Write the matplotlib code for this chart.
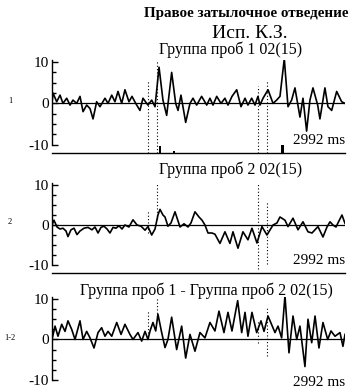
import matplotlib
matplotlib.use("Agg")
import matplotlib.pyplot as plt

# ---- data (time in ms, amplitude in uV) ----
t1 = [0, 10, 48, 82, 112, 150, 184, 214, 252, 286, 317, 354, 388, 419, 456, 490, 541, 572, 610, 643,
      674, 712, 745, 786, 817, 855, 898, 929, 967, 980, 1018, 1052, 1093, 1133, 1171, 1222, 1263, 1287,
      1317, 1365, 1409, 1440, 1477, 1528, 1580, 1613, 1644, 1682, 1726, 1766, 1797, 1838, 1886, 1930,
      1971, 2001, 2039, 2073, 2103, 2124, 2155, 2206, 2257, 2294, 2328, 2372, 2410, 2447, 2481, 2532,
      2563, 2600, 2634, 2665, 2713, 2736, 2787, 2818, 2856, 2907, 2958, 2992]
v1 = [0, 2.5, 0.4, 2, 0, 1.25, -0.4, 0.8, 0, 1.7, -2, -0.4, -1.25, -3.75, 0.4, -0.8, 1.25, 0, 2, 0.4,
      2.9, 0, 3.3, 0.4, 1.7, 0, -1.7, 1.25, 0, -0.4, 0.8, -0.8, 8.75, 0.8, -2.9, 7.5, 0, -1.7,
      2, -4.6, 0, 1.25, -0.4, 1.7, -0.4, 1.25, -0.4, 1.7, 0, 1.25, -0.4, 1.7, 3.3, -0.8,
      1.25, -0.4, 1.25, -0.4, 1.7, -0.4, 1.25, 3.3, 0, 0.8, 1.7, 10.8, -0.8, 0.8, 3.75, -3.3,
      1.25, -6.7, 0.8, 3.75, -0.4, -3.75, 3.75, -0.8, -1.7, 2.9, 0.4, 0]

t2 = [0, 20, 51, 82, 112, 143, 163, 194, 225, 255, 286, 327, 368, 408, 439, 470, 500, 531, 562, 592,
      623, 653, 684, 715, 745, 786, 827, 868, 909, 950, 980, 1018, 1052, 1082, 1103, 1133, 1154, 1184,
      1215, 1256, 1287, 1307, 1348, 1389, 1419, 1460, 1501, 1532, 1562, 1593, 1634, 1664, 1715, 1766,
      1817, 1848, 1899, 1950, 2001, 2042, 2093, 2144, 2195, 2257, 2297, 2328, 2379, 2410, 2461, 2512,
      2563, 2614, 2655, 2716, 2767, 2808, 2839, 2869, 2900, 2930, 2961, 2992]
v2 = [0, 1.2, -0.5, -1, -0.8, -1.5, -2.9, -1.2, -0.8, -2.4, -1.5, -0.8, -0.6, -1.2, -0.5, -2, -0.6, -0.3, -1, -2,
      -0.6, -0.8, -0.2, -1.0, 0, -0.5, 1.3, 0, -0.3, -1.3, -0.4, -2.5, -1, 2.5, 3.9, 2.5, 2, -0.3,
      0.5, 3.3, 1, -0.5, 0.3, -0.5, 0.5, 3.3, 2, 1.2, 0, -2, -2, -2.3, -4.6, -1.7,
      -4.6, -1.7, -5.8, -1.7, -3.7, -0.8, -4.5, -0.4, -2.5, 0, 0.5, 2, 1.2, -0.4, 1.7, -1.2,
      0.8, -1.7, -2, -0.4, -3, -0.5, 0.8, 0, -0.5, 1, 2.5, 0.4]

t3 = [0, 31, 61, 99, 133, 163, 201, 235, 286, 317, 354, 388, 429, 470, 507, 541, 572, 610, 661, 705,
      745, 796, 827, 878, 916, 950, 980, 1001, 1031, 1059, 1082, 1120, 1154, 1184, 1222, 1273, 1324,
      1365, 1409, 1460, 1511, 1562, 1613, 1664, 1705, 1756, 1797, 1838, 1896, 1937, 1971, 2001, 2042,
      2090, 2134, 2165, 2206, 2277, 2308, 2345, 2379, 2420, 2461, 2499, 2532, 2583, 2614, 2652, 2686,
      2726, 2767, 2815, 2849, 2890, 2941, 2971, 2992]
v3 = [0, 3.3, 0.8, 3.75, 2, 4.6, 2.5, 0, 4.6, 0, 2, 0.4, -2.1, 1.7, 2.9, 0.8, 2, 0.8, 4.2, 1.25,
      3.75, 1.25, 0, 1.7, -0.4, 2, 0, 2.1, 4.2, 2.1, 6.25, 1.7, -2, 0, 5.5, -2.5, 3.3,
      -4.6, 1.25, -2.9, 1.7, 0.4, 4.2, 2.1, 7, 1.7, 6.7, 2.1, 9.6, 1.7, 6.7, 0.8, 6.7,
      1.7, 4.6, 2, 5.8, 1.7, 3.3, 0.4, 10.8, -3.3, 5.8, 0, 3.3, -6.7, 5, -0.8, 5.8,
      -2.1, 4.2, 0, 2.1, 0.8, 1.7, -1.7, 1.25]

marker_times = [980, 1072, 2103, 2195]
sig_times = [1103, 1246, 2358]
sig_heights = [1.6, 0.5, 2.0]

panel_titles = ["Группа проб 1 02(15)", "Группа проб 2 02(15)",
                "Группа проб 1 - Группа проб 2 02(15)"]
row_labels = ["1", "2", "1-2"]
main_title = "Правое затылочное отведение"
subject = "Исп. К.З."
end_label = "2992 ms"

W, H = 354, 391
SERIF = ["Liberation Serif", "DejaVu Serif"]
plt.rcParams['font.family'] = SERIF

fig = plt.figure(figsize=(W / 100, H / 100), dpi=100)

def fy(py):
    return 1 - py / H

# axes rectangles in pixels: (top, bottom)
rects = [(60, 153), (183, 273), (297, 388)]
series = [(t1, v1), (t2, v2), (t3, v3)]
title_y = [50, 170, 291]
title_x = [231, 231, 206]
zero_y = [101, 222, 338]
end_y = [141, 260, 383]
vline_spans = [
    [(0.0, 0.78), (0.0, 1.0), (0.0, 0.72), (0.0, 0.78)],
    [(0.45, 0.7), (0.6, 1.0), (0.05, 1.0), (0.1, 0.8)],
    [(0.6, 0.85), (0.75, 1.0), (0.5, 0.75), (0.35, 0.9)],
]

left, right = 52, 345
for i, ((top, bot), (t, v)) in enumerate(zip(rects, series)):
    ax = fig.add_axes([left / W, fy(bot), (right - left) / W, (bot - top) / H])
    ax.set_xlim(0, 2992)
    ax.set_ylim(-12, 10.5)
    ax.axhline(0, color="black", lw=0.9, zorder=2)
    ax.plot(t, v, color="black", lw=1.2, zorder=3)
    for mt, (a, b) in zip(marker_times, vline_spans[i]):
        ax.axvline(mt, ymin=a, ymax=b, color="black", ls=(0, (1, 2)), lw=0.8, zorder=1)
    if i == 0:
        ax.bar(sig_times, sig_heights, bottom=-12, width=30, color="black", zorder=3)
    for s in ("top", "right"):
        ax.spines[s].set_visible(False)
    ax.spines["left"].set_bounds(-10, 10.5)
    ax.spines["left"].set_linewidth(1.0)
    ax.spines["bottom"].set_linewidth(1.0)
    if i == 2:
        ax.spines["bottom"].set_visible(False)
    ax.set_xticks([])
    ax.set_yticks([-10, 0, 10])
    ax.set_yticklabels(["-10", "0", "10"])
    ax.set_yticks([-7.5, -5, -2.5, 2.5, 5, 7.5], minor=True)
    ax.tick_params(axis="y", which="major", direction="in", length=4, width=1, labelsize=11, pad=2)
    ax.tick_params(axis="y", which="minor", direction="in", length=3, width=1)
    fig.text(title_x[i] / W, fy(title_y[i]), panel_titles[i], ha="center", va="center", fontsize=11.5)
    fig.text(10 / W, fy(zero_y[i]), row_labels[i], ha="center", va="center", fontsize=6)
    fig.text(345 / W, fy(end_y[i]), end_label, ha="right", va="center", fontsize=11)

fig.text(246 / W, fy(13), main_title, ha="center", va="center", fontsize=10.8, fontweight="bold")
fig.text(250 / W, fy(34), subject, ha="center", va="center", fontsize=14)

fig.savefig("out.png", dpi=100)
